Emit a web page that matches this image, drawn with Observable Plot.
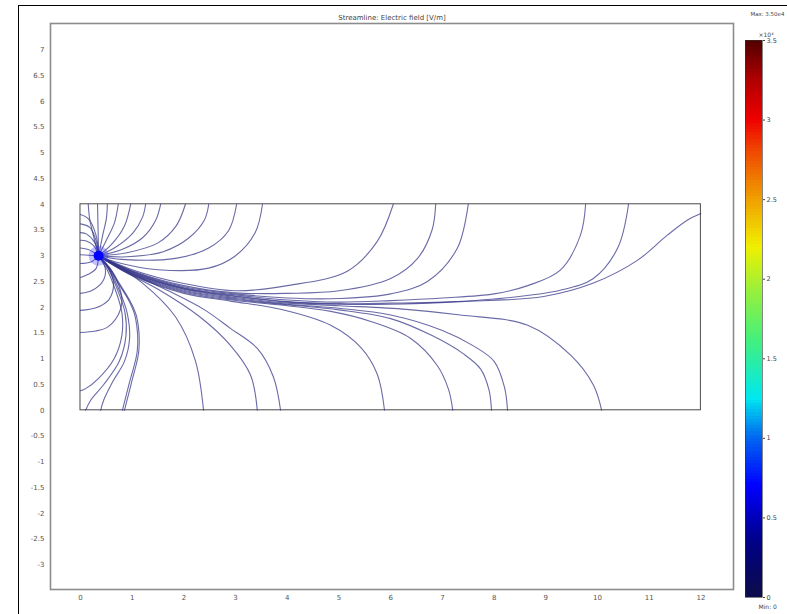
<!DOCTYPE html>
<html>
<head>
<meta charset="utf-8">
<script src="https://cdn.jsdelivr.net/npm/d3@7"></script>
<script src="https://cdn.jsdelivr.net/npm/@observablehq/plot@0.6"></script>
<style>
  html, body { margin: 0; padding: 0; background: #fff; }
  #wrap { position: relative; width: 787px; height: 614px; overflow: hidden; background: #fff; }
  #main { position: absolute; left: 0; top: 0; }
  #cbar { position: absolute; left: 727px; top: 0; }
  #border { position: absolute; left: 18px; top: 5px; width: 780px; height: 620px;
            border-left: 1.5px solid #000; border-top: 1.5px solid #000; pointer-events: none; }
</style>
</head>
<body>
<div id="wrap"><div id="main"></div><div id="cbar"></div><div id="border"></div></div>
<script>
// ---------- data ----------
const title = "Streamline: Electric field [V/m]";
const xTicks = [0,1,2,3,4,5,6,7,8,9,10,11,12];
const yTicks = [-3,-2.5,-2,-1.5,-1,-0.5,0,0.5,1,1.5,2,2.5,3,3.5,4,4.5,5,5.5,6,6.5,7];
const domainX = [0, 12];
const domainY = [0, 4];
const source = [0.35, 3.0];

// streamlines ending on the top boundary close to the source
const topShort = [
  [[0.35,3.0],[0.26,3.35],[0.18,3.7],[0.15,4]],
  [[0.35,3.0],[0.34,3.5],[0.33,4]],
  [[0.35,3.0],[0.43,3.4],[0.5,3.72],[0.52,4]],
  [[0.35,3.0],[0.5,3.3],[0.66,3.65],[0.73,4]],
  [[0.35,3.0],[0.6,3.22],[0.85,3.58],[0.97,4]],
  [[0.35,3.0],[0.7,3.18],[1.02,3.45],[1.2,3.75],[1.26,4]],
  [[0.35,3.0],[0.8,3.12],[1.2,3.35],[1.45,3.68],[1.55,4]],
  [[0.35,3.0],[0.9,3.06],[1.5,3.25],[1.85,3.58],[2.03,4]],
  [[0.35,3.0],[0.9,2.98],[1.6,3.08],[2.1,3.35],[2.4,3.7],[2.48,4]],
  [[0.35,3.0],[0.8,2.93],[1.84,2.95],[2.48,3.15],[2.86,3.48],[3.02,4]],
  [[0.35,3.0],[0.68,2.88],[1.5,2.73],[2.48,2.76],[3.0,3.0],[3.38,3.45],[3.52,4]]
];

// streamlines following the trunk and ending on the top / right boundary
const topLong = [
  [[0.35,3.0],[1,2.73],[2,2.46],[3,2.32],[4,2.42],[5.16,2.7],[5.74,3.28],[6.05,4]],
  [[0.35,3.0],[1,2.71],[2,2.42],[3,2.28],[4,2.27],[5,2.32],[6.0,2.56],[6.52,2.95],[6.8,3.5],[6.87,4]],
  [[0.35,3.0],[1,2.7],[2,2.4],[3,2.26],[4,2.18],[5,2.17],[6,2.26],[6.71,2.5],[7.29,3.15],[7.5,4]],
  [[0.35,3.0],[1,2.69],[2,2.38],[3,2.24],[4,2.14],[5,2.1],[6,2.13],[7,2.18],[8.0,2.26],[8.65,2.42],[9.28,2.72],[9.67,3.4],[9.77,4]],
  [[0.35,3.0],[1,2.68],[2,2.37],[3,2.22],[4,2.11],[5,2.07],[6,2.08],[7,2.1],[8,2.16],[9.28,2.33],[9.92,2.56],[10.39,3.15],[10.6,4]],
  [[0.35,3.0],[1,2.67],[2,2.36],[3,2.21],[4,2.1],[5,2.06],[6,2.06],[7.35,2.11],[8.96,2.21],[9.92,2.47],[10.77,2.91],[11.35,3.4],[11.75,3.7],[12,3.82]]
];

// streamlines ending on the bottom boundary (y = 0), right of the source
const bottomRight = [
  [[0.35,3.0],[1,2.66],[2,2.35],[3,2.19],[4,2.08],[5,2.03],[6.3,1.96],[7.35,1.85],[8.65,1.65],[9.48,1.07],[9.92,0.49],[10.08,0]],
  [[0.35,3.0],[1,2.65],[2,2.33],[3,2.17],[4,2.06],[5,1.98],[6,1.85],[7,1.55],[7.6,1.25],[8.0,0.95],[8.2,0.45],[8.26,0]],
  [[0.35,3.0],[1,2.64],[2,2.31],[3,2.15],[4,2.05],[5,1.95],[6,1.78],[6.8,1.45],[7.4,1.1],[7.74,0.8],[7.9,0.4],[7.95,0]],
  [[0.35,3.0],[1,2.63],[2,2.29],[3,2.13],[4,2.03],[4.84,1.92],[5.6,1.73],[6.38,1.4],[6.9,0.87],[7.12,0.4],[7.2,0]],
  [[0.35,3.0],[1,2.62],[2,2.27],[2.9,2.12],[3.87,1.96],[4.84,1.65],[5.42,1.22],[5.74,0.7],[5.88,0]],
  [[0.35,3.0],[0.9,2.7],[1.7,2.32],[2.4,1.95],[2.9,1.59],[3.42,1.2],[3.73,0.65],[3.87,0]],
  [[0.35,3.0],[0.8,2.72],[1.5,2.35],[2.3,1.82],[2.9,1.26],[3.29,0.68],[3.42,0]],
  [[0.35,3.0],[0.54,2.91],[1.2,2.47],[1.84,1.81],[2.22,0.97],[2.38,0]]
];

// streamlines dropping steeply from the source to the bottom-left corner region
const bottomLeft = [
  [[0.35,3.0],[0.55,2.78],[0.73,2.47],[0.95,2.1],[1.06,1.81],[1.1,1.17],[0.95,0.55],[0.81,0]],
  [[0.35,3.0],[0.57,2.76],[0.76,2.45],[0.98,2.08],[1.09,1.8],[1.13,1.17],[0.99,0.55],[0.85,0]],
  [[0.35,3.0],[0.55,2.75],[0.72,2.4],[0.9,1.9],[0.95,1.4],[0.85,0.95],[0.62,0.55],[0.45,0.2],[0.39,0]],
  [[0.35,3.0],[0.54,2.74],[0.7,2.38],[0.86,1.9],[0.88,1.45],[0.75,0.95],[0.45,0.5],[0.2,0.2],[0.1,0]],
  [[0.35,3.0],[0.52,2.72],[0.67,2.35],[0.8,1.9],[0.8,1.45],[0.65,1.0],[0.35,0.62],[0.1,0.42],[0,0.38]]
];

// streamlines looping back to the left wall (x = 0)
const leftWall = [
  [[0.35,3.0],[0.6,2.7],[0.75,2.4],[0.8,2.1],[0.7,1.8],[0.5,1.6],[0.29,1.54],[0,1.51]],
  [[0.35,3.0],[0.55,2.75],[0.64,2.45],[0.55,2.15],[0.3,1.99],[0,1.94]],
  [[0.35,3.0],[0.48,2.75],[0.44,2.52],[0.23,2.33],[0,2.27]],
  [[0.35,3.0],[0.3,2.75],[0.15,2.64],[0,2.58]],
  [[0.35,3.0],[0.2,2.88],[0,2.85]],
  [[0.35,3.0],[0.15,3.01],[0,3.02]],
  [[0.35,3.0],[0.15,3.12],[0,3.15]],
  [[0.35,3.0],[0.25,3.2],[0.1,3.29],[0,3.3]],
  [[0.35,3.0],[0.28,3.25],[0.12,3.42],[0,3.45]],
  [[0.35,3.0],[0.3,3.3],[0.18,3.55],[0,3.62]],
  [[0.35,3.0],[0.3,3.4],[0.15,3.72],[0,3.8]]
];

// colour bar (x10^4 V/m)
const cbTicks = [0,0.5,1,1.5,2,2.5,3,3.5];
const cbStopValues = [0,0.35,0.7,1.0,1.25,1.6,1.9,2.2,2.5,2.8,3.0,3.25,3.5];
const cbStopColors = ["#0c0c48","#000088","#0000ff","#0066f0","#00e8f0","#40f080","#90f040","#f0f000","#f0a000","#f04800","#f00000","#b00000","#500000"];
const cbMaxText = "Max: 3.50e4";
const cbMinText = "Min: 0";

// ---------- build table ----------
const groups = [topShort, topLong, bottomRight, bottomLeft, leftWall];
const rows = [];
let id = 0;
for (const g of groups) for (const line of g) { for (const [x, y] of line) rows.push({x, y, id}); id++; }

const font = "DejaVu Sans, Liberation Sans, sans-serif";

const main = Plot.plot({
  width: 787, height: 614,
  marginLeft: 50, marginRight: 54, marginTop: 23, marginBottom: 25,
  style: {fontSize: "7px", fontFamily: font, color: "#555", background: "transparent"},
  x: {domain: [-0.58, 12.63], ticks: xTicks, tickSize: 0, tickPadding: 6, tickFormat: d => String(d), label: null},
  y: {domain: [-3.48, 7.51], ticks: yTicks, tickSize: 0, tickPadding: 6, tickFormat: d => String(d), label: null},
  marks: [
    Plot.frame({stroke: "#8c8c8c", strokeWidth: 1.6}),
    Plot.rect([0], {x1: () => domainX[0], x2: () => domainX[1], y1: () => domainY[0], y2: () => domainY[1], fill: "none", stroke: "#5a5a5a", strokeWidth: 1.1}),
    Plot.line(rows, {x: "x", y: "y", z: "id", curve: "catmull-rom", stroke: "#38388a", strokeWidth: 1.1, strokeOpacity: 0.75}),
    Plot.dot([source], {x: d => d[0], y: d => d[1], r: 10, fill: "#3030ff", fillOpacity: 0.3, stroke: null}),
    Plot.dot([source], {x: d => d[0], y: d => d[1], r: 5, fill: "#0000ff", stroke: null}),
    Plot.text([title], {frameAnchor: "top", dy: -8, fontSize: 7, fill: "#444", text: d => d})
  ]
});
document.getElementById("main").appendChild(main);

const cbStep = 0.02;
const cbCells = d3.range(0, 3.5, cbStep);
const cbar = Plot.plot({
  width: 60, height: 614,
  marginLeft: 18, marginRight: 25, marginTop: 40, marginBottom: 17,
  style: {fontSize: "6.5px", fontFamily: font, color: "#444", background: "transparent"},
  x: {domain: [0, 1], axis: null},
  y: {domain: [0, 3.5], axis: "right", ticks: cbTicks, tickSize: 2, tickPadding: 2, tickFormat: d => String(d), label: null},
  color: {type: "linear", domain: cbStopValues, range: cbStopColors},
  marks: [
    Plot.rect(cbCells, {x1: 0, x2: 1, y1: d => d, y2: d => Math.min(3.5, d + cbStep * 1.05), fill: d => d + cbStep / 2, inset: 0, shapeRendering: "crispEdges"}),
    Plot.frame({stroke: "#333", strokeWidth: 0.6}),
    Plot.text([cbMaxText], {frameAnchor: "top-right", dx: 22, dy: -28, textAnchor: "end", fontSize: 5.5, fill: "#444", text: d => d}),
    Plot.text(["×10⁴"], {frameAnchor: "top-left", dx: 13, dy: -8, textAnchor: "start", fontSize: 6, fill: "#444", text: d => d}),
    Plot.text([cbMinText], {frameAnchor: "bottom-left", dx: 13, dy: 11, textAnchor: "start", fontSize: 6, fill: "#444", text: d => d})
  ]
});
document.getElementById("cbar").appendChild(cbar);
</script>
</body>
</html>
